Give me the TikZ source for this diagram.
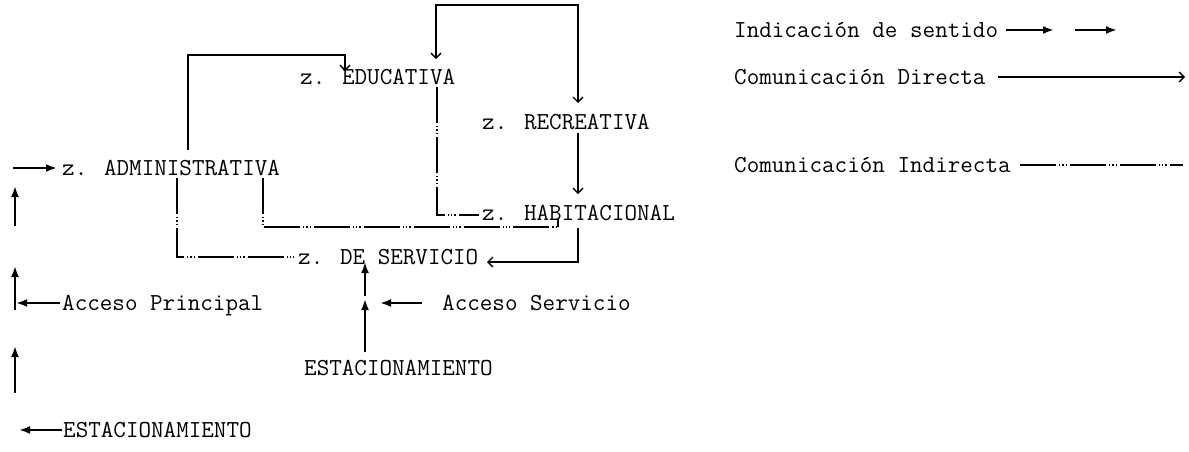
\documentclass[tikz,border=0pt]{standalone}
\usepackage{fontspec}
\usetikzlibrary{arrows.meta}
\begin{document}
\begin{tikzpicture}[x=1pt,y=1pt,
  lbl/.style={anchor=base west, inner sep=0pt, font=\ttfamily\fontsize{24.4}{28}\selectfont},
  sense/.style={line width=2.8pt, -{Latex[length=11pt,width=8pt]}},
  direct/.style={line width=1.3pt, >={Straight Barb[length=5pt,width=10pt]}, ->},
  indirect/.style={line width=1.3pt, dash pattern=on 36pt off 3pt on 1.3pt off 2pt on 1.3pt off 2pt on 1.3pt off 3pt}
]
\useasboundingbox (0,0) rectangle (1189,-451);

% text nodes
\node[lbl] (edu) at (300,-84) {z. EDUCATIVA};
\node[lbl] (rec) at (482,-129) {z. RECREATIVA};
\node[lbl] (adm) at (62,-175) {z. ADMINISTRATIVA};
\node[lbl] (hab) at (482,-220) {z. HABITACIONAL};
\node[lbl] (ser) at (298,-264) {z. DE SERVICIO};
\node[lbl] (accp) at (62,-310) {Acceso Principal};
\node[lbl] (accs) at (442,-310) {Acceso Servicio};
\node[lbl] (est1) at (304,-375) {ESTACIONAMIENTO};
\node[lbl] (est2) at (63,-437) {ESTACIONAMIENTO};
\node[lbl] (leg1) at (734,-37) {Indicación de sentido};
\node[lbl] (leg2) at (734,-84) {Comunicación Directa};
\node[lbl] (leg3) at (734,-172) {Comunicación Indirecta};

% coordinates
\coordinate (c1a) at (188,-150); \coordinate (c1b) at (188,-55);
\coordinate (c1c) at (345,-55);  \coordinate (c1d) at (345,-71);
\coordinate (t1) at (436,-59);   \coordinate (t2) at (436,-5);
\coordinate (t3) at (578,-5);    \coordinate (t4) at (578,-103);
\coordinate (e1) at (437,-87);   \coordinate (e2) at (437,-215);
\coordinate (e3) at (479,-215);
\coordinate (r1) at (578,-133);  \coordinate (r2) at (578,-194);
\coordinate (h1) at (263,-178);  \coordinate (h2) at (263,-227);
\coordinate (h3) at (558,-227);  \coordinate (h4) at (558,-219);
\coordinate (s1) at (177,-178);  \coordinate (s2) at (177,-257);
\coordinate (s3) at (294,-257);
\coordinate (v1) at (578,-228);  \coordinate (v2) at (578,-262);
\coordinate (v3) at (487,-262);
\coordinate (u1) at (365,-296);  \coordinate (u2) at (365,-262);
\coordinate (u3) at (365,-352);  \coordinate (u4) at (365,-299);
\coordinate (as1) at (422,-303); \coordinate (as2) at (380,-303);
\coordinate (l1) at (13,-168);   \coordinate (l2) at (57,-168);
\coordinate (l3) at (15,-226);   \coordinate (l4) at (15,-186);
\coordinate (l5) at (15,-310);   \coordinate (l6) at (15,-266);
\coordinate (l7) at (15,-393);   \coordinate (l8) at (15,-346);
\coordinate (ap1) at (60,-303);  \coordinate (ap2) at (16,-303);
\coordinate (es1) at (62,-430);  \coordinate (es2) at (19,-430);
\coordinate (g1) at (1006,-30);  \coordinate (g2) at (1054,-30);
\coordinate (g3) at (1075,-30);  \coordinate (g4) at (1117,-30);
\coordinate (d1) at (998,-77);   \coordinate (d2) at (1185,-77);
\coordinate (i1) at (1020,-165); \coordinate (i2) at (1183,-165);

% direct communication
\draw[direct] (c1a) -- (c1b) -- (c1c) -- (c1d);
\draw[direct,<->] (t1) -- (t2) -- (t3) -- (t4);
\draw[direct] (r1) -- (r2);
\draw[direct] (v1) -- (v2) -- (v3);

% indirect communication
\draw[indirect] (e1) -- (e2) -- (e3);
\draw[indirect] (h1) -- (h2) -- (h3);
\draw[line width=1.3pt] (h3) -- (h4);
\draw[indirect] (s1) -- (s2) -- (s3);

% indication of sense
\draw[sense] (u1) -- (u2);
\draw[sense] (u3) -- (u4);
\draw[sense] (as1) -- (as2);
\draw[sense] (l1) -- (l2);
\draw[sense] (l3) -- (l4);
\draw[sense] (l5) -- (l6);
\draw[sense] (l7) -- (l8);
\draw[sense] (ap1) -- (ap2);
\draw[sense] (es1) -- (es2);

% legend
\draw[sense] (g1) -- (g2);
\draw[sense] (g3) -- (g4);
\draw[direct] (d1) -- (d2);
\draw[indirect] (i1) -- (i2);
\end{tikzpicture}
\end{document}
